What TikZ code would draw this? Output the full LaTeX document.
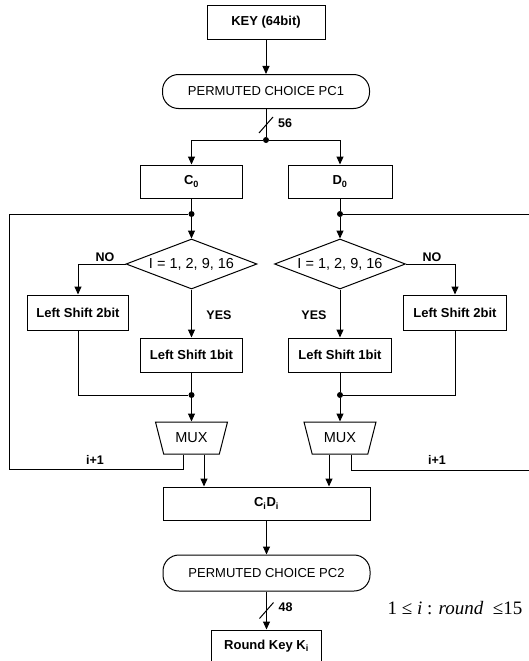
\documentclass[tikz,border=0pt]{standalone}
\usepackage{fontspec}
\setmainfont{Liberation Sans}
\newfontfamily\timesfont{Liberation Serif}
\usetikzlibrary{arrows.meta,calc,positioning,shapes.geometric}

\begin{document}
\begin{tikzpicture}[
    x=1pt,y=-1pt,
    font=\fontsize{13}{15}\selectfont,
    arr/.style={-{Triangle[length=8pt,width=7pt]},line width=1pt},
    wire/.style={line width=1pt},
    stage/.style={draw,line width=1pt,minimum height=34pt,inner sep=0pt,font=\fontsize{13}{15}\selectfont\bfseries},
    perm/.style={draw,line width=1pt,rounded corners=16pt,minimum width=207pt,minimum height=34pt,inner sep=0pt},
    cond/.style={draw,diamond,aspect=2.6,line width=1pt,minimum width=131pt,minimum height=50pt,inner sep=0pt,
      font=\fontsize{14.5}{16}\selectfont},
    mux/.style={draw,trapezium,trapezium left angle=115,trapezium right angle=115,trapezium stretches=true,
      minimum width=72pt,minimum height=32pt,inner sep=0pt,line width=1pt,font=\fontsize{14.5}{16}\selectfont},
    junc/.style={circle,fill,inner sep=0pt,minimum size=6pt},
    lbl/.style={font=\fontsize{12.5}{14}\selectfont\bfseries}
  ]
  \useasboundingbox (0,0) rectangle (529,661);

  \node[stage,minimum width=118pt] (key) at (266,22.5) {KEY (64bit)};
  \node[perm,below=34pt of key] (pc1) {PERMUTED CHOICE PC1};
  \node[junc] (split) at (266,140) {};
  \node[stage,minimum width=102pt,minimum height=33pt] (c0) at (191.5,181.5) {C\textsubscript{0}};
  \node[stage,minimum width=104pt,minimum height=33pt] (d0) at (340,181.5) {D\textsubscript{0}};
  \node[junc] (jL) at (191.5,214) {};
  \node[junc] (jR) at (340,214) {};
  \node[cond] (decL) at (191.5,264) {I = 1, 2, 9, 16};
  \node[cond] (decR) at (340,264) {I = 1, 2, 9, 16};
  \node[stage,minimum width=101pt,minimum height=35pt] (sh2L) at (78,312.5) {Left Shift 2bit};
  \node[stage,minimum width=103pt,minimum height=35pt] (sh2R) at (455,312.5) {Left Shift 2bit};
  \node[stage,minimum width=102pt] (sh1L) at (191.5,355) {Left Shift 1bit};
  \node[stage,minimum width=103pt] (sh1R) at (340,355) {Left Shift 1bit};
  \node[junc] (mL) at (191.5,395) {};
  \node[junc] (mR) at (340,395) {};
  \node[mux] (muxL) at (191.5,438) {MUX};
  \node[mux] (muxR) at (340,438) {MUX};
  \node[stage,minimum width=207pt,minimum height=33pt] (cd) at (266.5,503.5) {C\textsubscript{i}D\textsubscript{i}};
  \node[perm,minimum height=36pt,below=34pt of cd] (pc2) {PERMUTED CHOICE PC2};
  \node[stage,minimum width=110pt,minimum height=32pt,below=38pt of pc2] (rk) {Round Key K\textsubscript{i}};

  \node[lbl] (w56) at (285,123) {56};
  \node[lbl] (noL) at (105,257) {NO};
  \node[lbl] (noR) at (432,257) {NO};
  \node[lbl] (yesL) at (219,315) {YES};
  \node[lbl] (yesR) at (314,315) {YES};
  \node[lbl] (incL) at (95,460) {i+1};
  \node[lbl] (incR) at (437,460) {i+1};
  \node[font=\fontsize{19}{22}\selectfont\timesfont] (range) at (455,608) {1 ≤ \textit{i} : \textit{round} \ ≤15};

  \coordinate (fbL) at ($(muxL.south)+(-8.5,0)$);
  \coordinate (outL) at ($(muxL.south)+(12.5,0)$);
  \coordinate (fbR) at ($(muxR.south)+(11,0)$);
  \coordinate (outR) at ($(muxR.south)+(-11,0)$);
  \coordinate (cornerL) at (9,469);
  \coordinate (cornerR) at (532,470);
  \coordinate (tick1) at (266,125);
  \coordinate (tick2) at ($(pc2.south)!0.5!(rk.north)$);
  \node[lbl] (w48) at ($(tick2)+(19,-3)$) {48};

  \draw[arr] (key) -- (pc1);
  \draw[wire] (pc1) -- (split);
  \draw[wire] ($(tick1)+(-7,8)$) -- ($(tick1)+(7,-8)$);
  \draw[arr] (split) -| (c0);
  \draw[arr] (split) -| (d0);

  \draw[wire] (c0) -- (jL);
  \draw[arr] (jL) -- (decL);
  \draw[arr] (decL.west) -| (sh2L);
  \draw[arr] (decL) -- (sh1L);
  \draw[wire] (sh2L) |- (mL);
  \draw[wire] (sh1L) -- (mL);
  \draw[arr] (mL) -- (muxL);
  \draw[wire] (fbL) |- (cornerL) |- (jL);
  \draw[arr] (outL) -- (outL |- cd.north);

  \draw[wire] (d0) -- (jR);
  \draw[arr] (jR) -- (decR);
  \draw[arr] (decR.east) -| (sh2R);
  \draw[arr] (decR) -- (sh1R);
  \draw[wire] (sh2R) |- (mR);
  \draw[wire] (sh1R) -- (mR);
  \draw[arr] (mR) -- (muxR);
  \draw[wire] (fbR) |- (cornerR) |- (jR);
  \draw[arr] (outR) -- (outR |- cd.north);

  \draw[arr] (cd) -- (pc2);
  \draw[arr] (pc2) -- (rk);
  \draw[wire] ($(tick2)+(-7,8)$) -- ($(tick2)+(7,-8)$);
\end{tikzpicture}
\end{document}
